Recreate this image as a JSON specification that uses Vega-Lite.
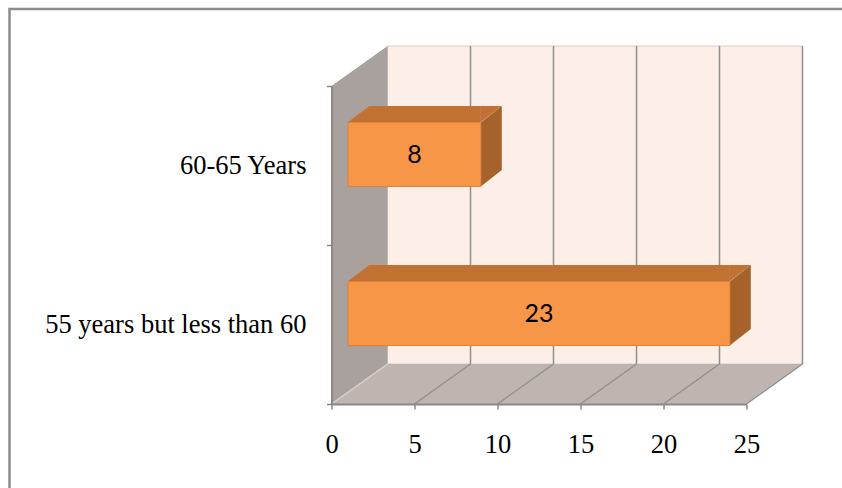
{
  "$schema": "https://vega.github.io/schema/vega-lite/v6.json",
  "width": 843,
  "height": 489,
  "autosize": {"type": "none"},
  "padding": {"left": 9.5, "top": 9, "right": -10.5, "bottom": -10},
  "background": "#ffffff",
  "config": {"view": {"stroke": "#8c8c8c", "strokeWidth": 2.5}},
  "datasets": {
    "ages": [
      {"age": "60-65 Years", "count": 8},
      {"age": "55 years but less than 60", "count": 23}
    ],
    "ticks": [
      {"tick": 0}, {"tick": 5}, {"tick": 10}, {"tick": 15}, {"tick": 20}, {"tick": 25}
    ]
  },
  "layer": [
    {
      "description": "invisible front-face copy that carries the scales and both axes",
      "data": {"name": "ages"},
      "mark": {"type": "bar", "fill": "#f79646", "height": 64, "xOffset": 16.5, "x2Offset": 16.5, "yOffset": -11, "opacity": 0},
      "encoding": {
        "x": {
          "field": "count",
          "type": "quantitative",
          "title": null,
          "scale": {"domain": [0, 25], "range": [322, 737], "nice": false, "zero": true},
          "axis": {
            "title": null, "orient": "bottom", "offset": -94, "values": [0, 5, 10, 15, 20, 25],
            "grid": false, "domainColor": "#888888", "domainWidth": 2, "tickColor": "#888888", "tickWidth": 1.5, "tickSize": 5,
            "labelFont": "Liberation Serif", "labelFontSize": 26.5, "labelColor": "#000000", "labelPadding": 22.5,
            "labelFlush": false, "labelOverlap": false, "zindex": 1
          }
        },
        "x2": {"datum": 0},
        "y": {
          "field": "age",
          "type": "nominal",
          "title": null,
          "sort": null,
          "scale": {"domain": ["60-65 Years", "55 years but less than 60"], "range": [77, 395], "paddingInner": 0, "paddingOuter": 0},
          "axis": {
            "title": null, "orient": "left", "offset": -322, "tickBand": "extent",
            "grid": false, "domainColor": "#888888", "domainWidth": 2, "tickColor": "#888888", "tickWidth": 1.5, "tickSize": 5,
            "labelFont": "Liberation Serif", "labelFontSize": 26.5, "labelColor": "#000000", "labelPadding": 20.5, "labelLimit": 0, "zindex": 1
          }
        }
      }
    },
    {
      "description": "back wall of the 3-D box",
      "data": {"values": [{}]},
      "mark": {"type": "point", "shape": "M56,-40H471V-358H56Z", "size": 4, "filled": true, "fill": "#fdefe7", "stroke": "#cfcfcf", "strokeWidth": 1, "opacity": 1},
      "encoding": {
        "x": {"datum": 0, "type": "quantitative", "title": null},
        "y": {"datum": "55 years but less than 60", "type": "nominal", "bandPosition": 1, "title": null}
      }
    },
    {
      "description": "left side wall",
      "data": {"values": [{}]},
      "mark": {"type": "point", "shape": "M0,0V-318L56,-358V-40Z", "size": 4, "filled": true, "fill": "#a8a19e", "strokeWidth": 0, "opacity": 1},
      "encoding": {
        "x": {"datum": 0, "type": "quantitative", "title": null},
        "y": {"datum": "55 years but less than 60", "type": "nominal", "bandPosition": 1, "title": null}
      }
    },
    {
      "description": "floor",
      "data": {"values": [{}]},
      "mark": {"type": "point", "shape": "M0,0H415L471,-40H56Z", "size": 4, "filled": true, "fill": "#beb5b1", "strokeWidth": 0, "opacity": 1},
      "encoding": {
        "x": {"datum": 0, "type": "quantitative", "title": null},
        "y": {"datum": "55 years but less than 60", "type": "nominal", "bandPosition": 1, "title": null}
      }
    },
    {
      "description": "light seam where the side wall meets the floor",
      "data": {"name": "ticks"},
      "transform": [{"filter": "datum.tick == 0"}],
      "mark": {"type": "point", "shape": "M0,0L56,-40", "size": 4, "filled": false, "stroke": "#d9d3d0", "strokeWidth": 1.3, "opacity": 1},
      "encoding": {
        "x": {"field": "tick", "type": "quantitative", "title": null},
        "y": {"datum": "55 years but less than 60", "type": "nominal", "bandPosition": 1, "title": null}
      }
    },
    {
      "description": "slanted grid lines across the floor",
      "data": {"name": "ticks"},
      "transform": [{"filter": "datum.tick > 0"}],
      "mark": {"type": "point", "shape": "M0,0L56,-40", "size": 4, "filled": false, "stroke": "#8f8f8f", "strokeWidth": 1.3, "opacity": 1},
      "encoding": {
        "x": {"field": "tick", "type": "quantitative", "title": null},
        "y": {"datum": "55 years but less than 60", "type": "nominal", "bandPosition": 1, "title": null}
      }
    },
    {
      "description": "vertical grid lines on the back wall",
      "data": {"name": "ticks"},
      "transform": [{"filter": "datum.tick > 0"}],
      "mark": {"type": "point", "shape": "M56,-40V-358", "size": 4, "filled": false, "stroke": "#8f8f8f", "strokeWidth": 1.5, "opacity": 1},
      "encoding": {
        "x": {"field": "tick", "type": "quantitative", "title": null},
        "y": {"datum": "55 years but less than 60", "type": "nominal", "bandPosition": 1, "title": null}
      }
    },
    {
      "description": "top face of each bar, middle strip",
      "data": {"name": "ages"},
      "mark": {"type": "bar", "fill": "#c17232", "height": 16.5, "xOffset": 16.5, "x2Offset": 37.5, "yOffset": -51.25},
      "encoding": {
        "x": {"field": "count", "type": "quantitative", "title": null},
        "x2": {"datum": 0},
        "y": {"field": "age", "type": "nominal", "title": null}
      }
    },
    {
      "description": "top face, left bevel",
      "data": {"name": "ages"},
      "mark": {"type": "point", "shape": "M16,-43H38V-59.5Z", "size": 4, "filled": true, "fill": "#c17232", "strokeWidth": 0, "opacity": 1},
      "encoding": {
        "x": {"datum": 0, "type": "quantitative", "title": null},
        "y": {"field": "age", "type": "nominal", "title": null}
      }
    },
    {
      "description": "top face, right bevel",
      "data": {"name": "ages"},
      "mark": {"type": "point", "shape": "M16,-43V-59.5H37.5Z", "size": 4, "filled": true, "fill": "#c17232", "strokeWidth": 0, "opacity": 1},
      "encoding": {
        "x": {"field": "count", "type": "quantitative", "title": null},
        "y": {"field": "age", "type": "nominal", "title": null}
      }
    },
    {
      "description": "right side face of each bar",
      "data": {"name": "ages"},
      "mark": {"type": "point", "shape": "M16.5,-43L37.5,-59.5V4.5L16.5,21Z", "size": 4, "filled": true, "fill": "#a6622b", "strokeWidth": 0, "opacity": 1},
      "encoding": {
        "x": {"field": "count", "type": "quantitative", "title": null},
        "y": {"field": "age", "type": "nominal", "title": null}
      }
    },
    {
      "description": "front face of each bar, drawn over the 3-D box",
      "data": {"name": "ages"},
      "mark": {"type": "bar", "fill": "#f79646", "stroke": "#e0803a", "strokeWidth": 1, "height": 64, "xOffset": 16.5, "x2Offset": 16.5, "yOffset": -11},
      "encoding": {
        "x": {"field": "count", "type": "quantitative", "title": null},
        "x2": {"datum": 0},
        "y": {"field": "age", "type": "nominal", "title": null}
      }
    },
    {
      "description": "value labels centred on the front faces",
      "data": {"name": "ages"},
      "mark": {"type": "text", "font": "Lato", "fontSize": 25, "color": "#000000", "align": "center", "baseline": "middle", "dx": 16.5, "dy": -11},
      "encoding": {
        "x": {"field": "count", "type": "quantitative", "stack": "zero", "bandPosition": 0.5, "title": null},
        "y": {"field": "age", "type": "nominal", "title": null},
        "text": {"field": "count", "type": "quantitative"}
      }
    }
  ]
}
